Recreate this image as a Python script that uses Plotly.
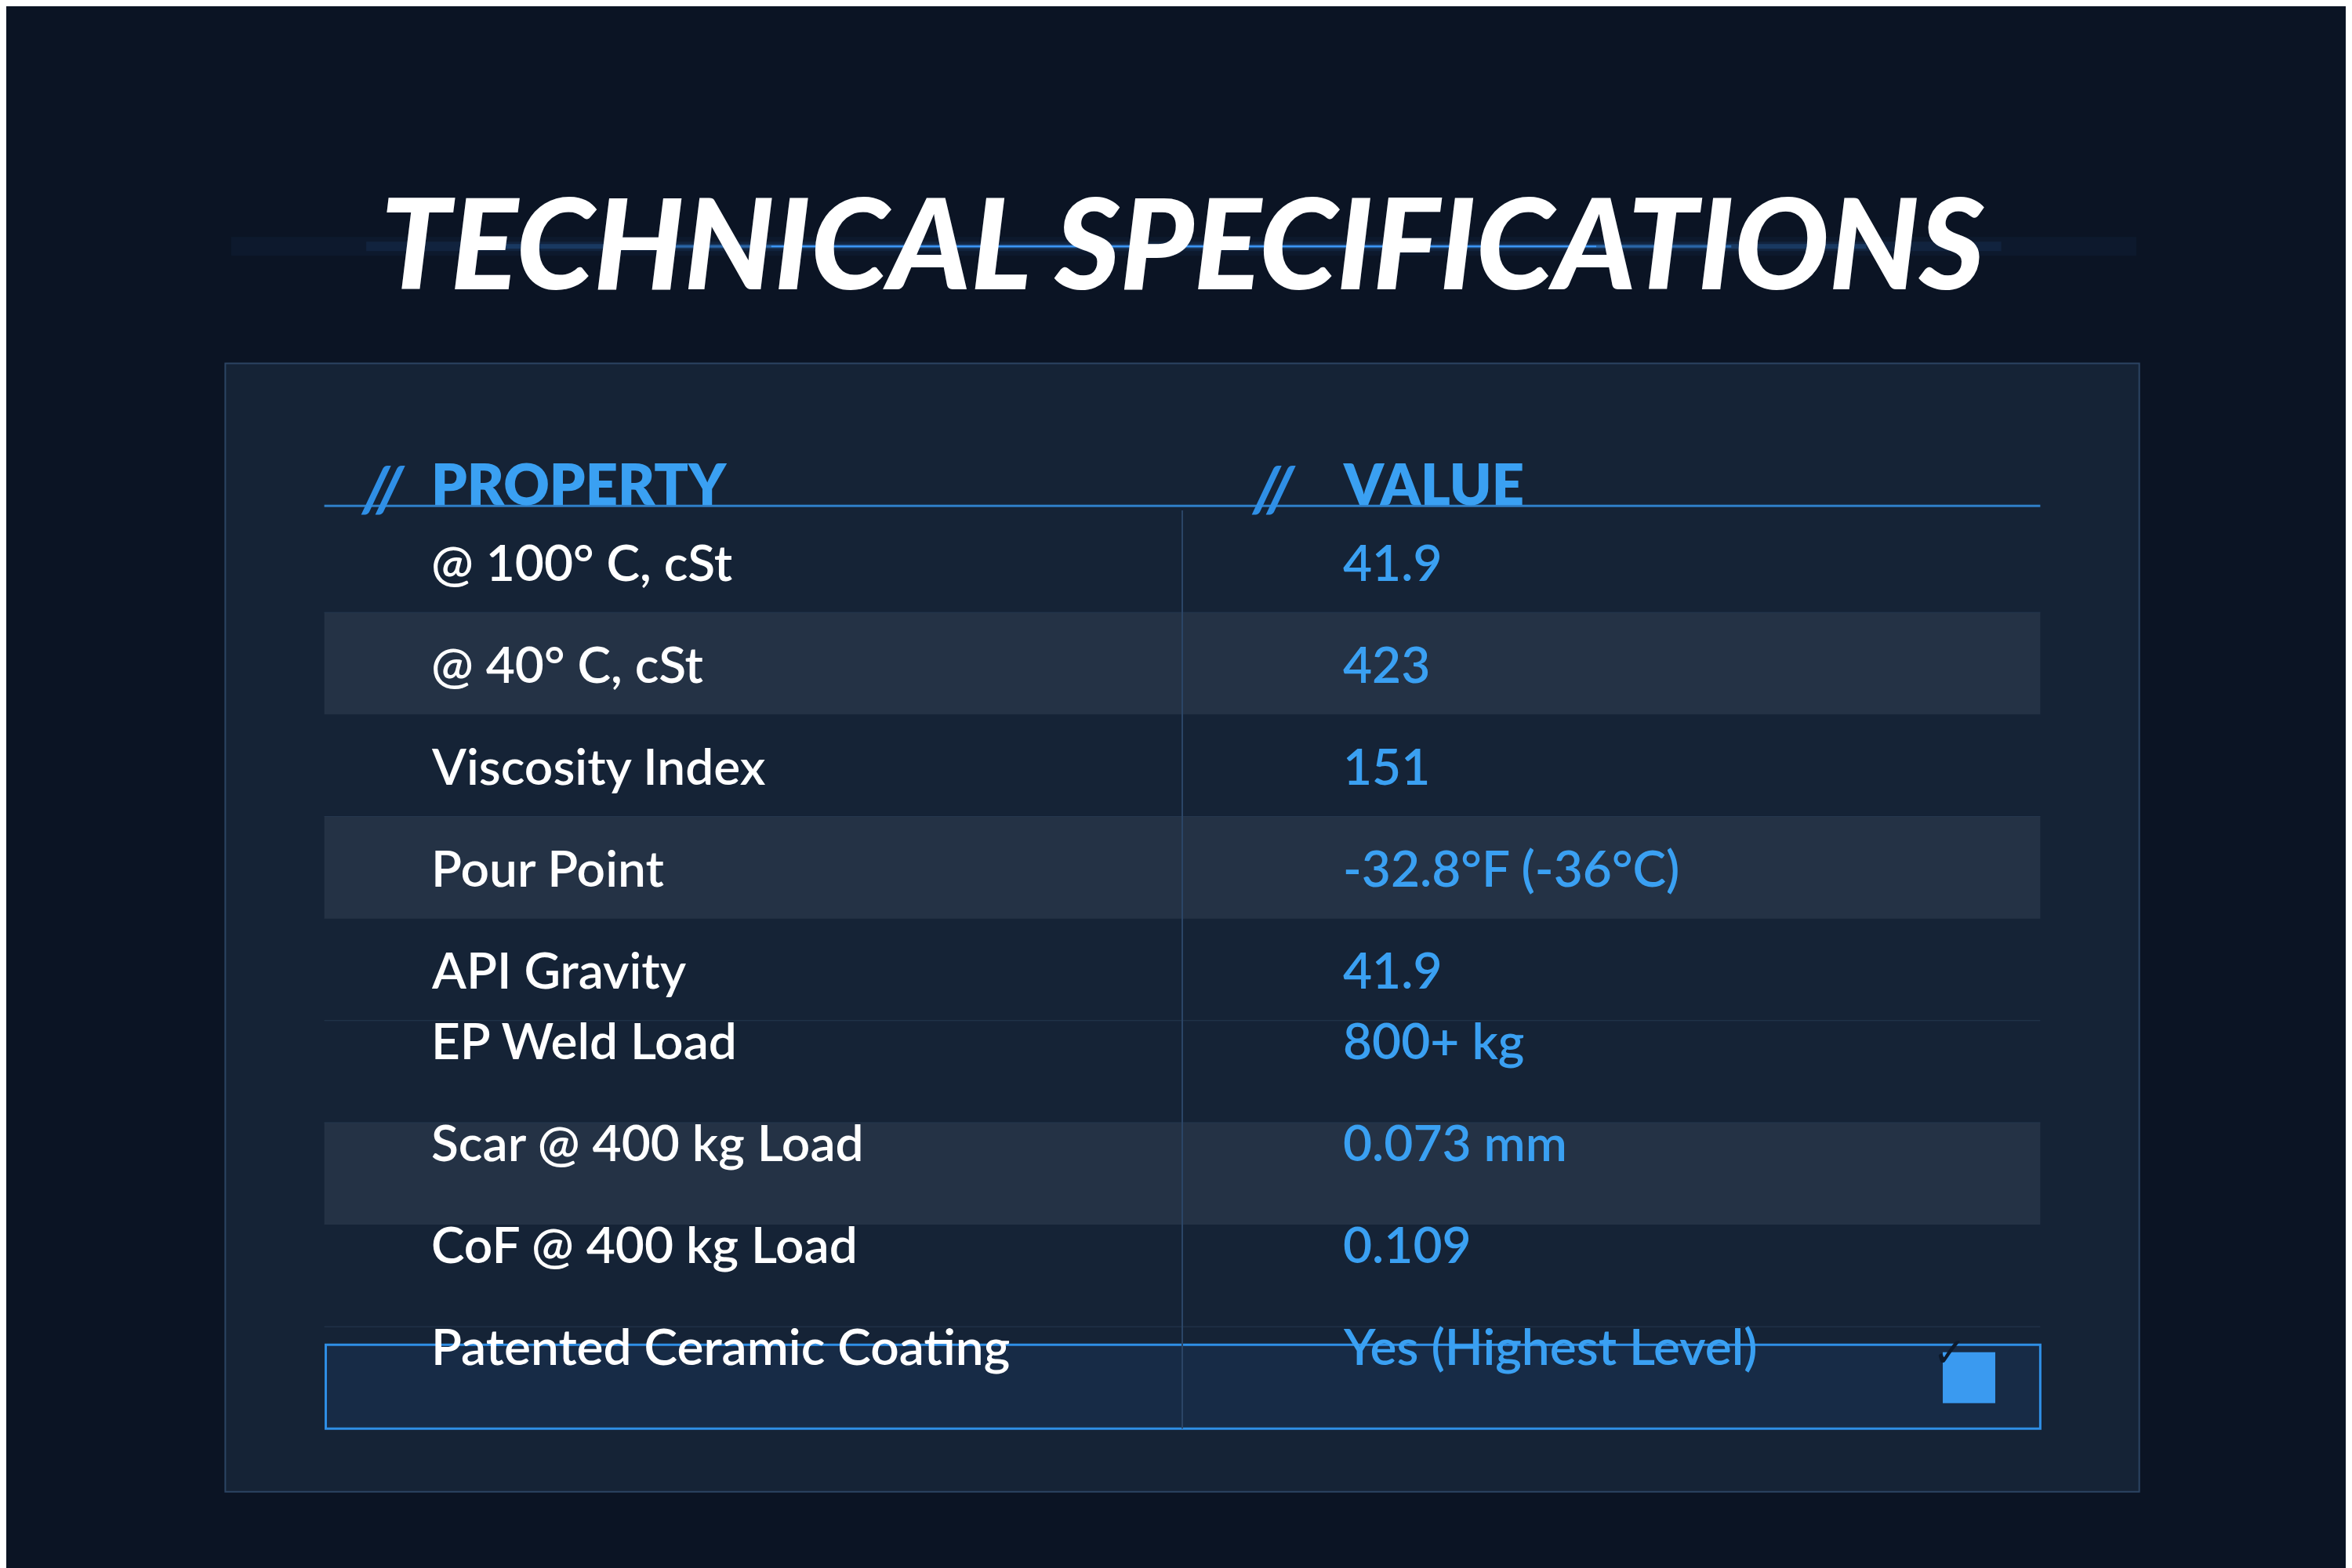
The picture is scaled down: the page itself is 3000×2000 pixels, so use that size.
import plotly.graph_objects as go

# tabla de especificaciones
propiedades = ["@ 100° C, cSt", "@ 40° C, cSt", "Viscosity Index", "Pour Point",
               "API Gravity", "EP Weld Load", "Scar @ 400 kg Load",
               "CoF @ 400 kg Load", "Patented Ceramic Coating"]
valores = ["41.9", "423", "151", "-32.8°F (-36°C)", "41.9", "800+ kg",
           "0.073 mm", "0.109", "Yes (Highest Level)"]
filas_sombreadas = [1, 3, 6]
encabezados = ["PROPERTY", "VALUE"]
titulo = "TECHNICAL SPECIFICATIONS"

W, H = 1568, 1045  # coordenadas de referencia


def px(x):
    return x / W


def py(y):
    return 1 - y / H


AZUL = "#3aa0f2"
FUENTE = "Lato"

fig = go.Figure()
shapes = []
ann = []

# glow del fondo
for i, (w, op) in enumerate([(24, 0.04), (12, 0.08), (6, 0.18), (3, 0.45), (2, 0.95)]):
    shapes.append(dict(type="line", xref="paper", yref="paper",
                       x0=px(150 + i * 90), x1=px(1420 - i * 90), y0=py(160), y1=py(160),
                       line=dict(color="#3f9dff", width=w), opacity=op, layer="below"))

# panel
shapes.append(dict(type="rect", xref="paper", yref="paper", x0=px(146), x1=px(1422),
                   y0=py(238), y1=py(990), fillcolor="rgba(24,38,58,0.85)",
                   line=dict(color="#2c4463", width=2), layer="below"))

# linea de encabezado
shapes.append(dict(type="line", xref="paper", yref="paper", x0=px(212), x1=px(1356),
                   y0=py(333), y1=py(333), line=dict(color="#2f7fc8", width=3)))

top, alto = 336, 68
for i, (p, v) in enumerate(zip(propiedades, valores)):
    y0, y1 = top + i * alto, top + (i + 1) * alto
    if i in filas_sombreadas:
        shapes.append(dict(type="rect", xref="paper", yref="paper", x0=px(212), x1=px(1356),
                           y0=py(y0), y1=py(y1), fillcolor="rgba(50,64,82,0.55)",
                           line=dict(width=0), layer="below"))
    elif i < len(propiedades) - 1:
        shapes.append(dict(type="line", xref="paper", yref="paper", x0=px(212), x1=px(1356),
                           y0=py(y1), y1=py(y1), line=dict(color="#26384f", width=1)))
    ym = py((y0 + y1) / 2)
    ann.append(dict(xref="paper", yref="paper", x=px(282), y=ym, text=p, showarrow=False,
                    xanchor="left",
                    font=dict(family=FUENTE, size=64, color="white", weight=600)))
    ann.append(dict(xref="paper", yref="paper", x=px(890), y=ym, text=v, showarrow=False,
                    xanchor="left",
                    font=dict(family=FUENTE, size=64, color=AZUL, weight=600)))

# ultima fila resaltada
y0, y1 = top + 8 * alto, top + 9 * alto
shapes.append(dict(type="rect", xref="paper", yref="paper", x0=px(213), x1=px(1356),
                   y0=py(y0 + 12), y1=py(y1), fillcolor="rgba(30,60,100,0.35)",
                   line=dict(color="#2f8fe6", width=3), layer="below"))
shapes.append(dict(type="rect", xref="paper", yref="paper", x0=px(1291), x1=px(1326),
                   y0=py(897), y1=py(931), fillcolor="#3a9af0", line=dict(width=0)))
ann.append(dict(xref="paper", yref="paper", x=px(1308), y=py(914), text="✓", showarrow=False,
                font=dict(family="DejaVu Sans", size=52, color="#0d1a2c", weight=700)))

# divisor de columnas
shapes.append(dict(type="line", xref="paper", yref="paper", x0=px(784), x1=px(784),
                   y0=py(336), y1=py(948), line=dict(color="#2b4566", width=2)))

# encabezados
for xs, xt, t in [(235, 282, encabezados[0]), (845, 890, encabezados[1])]:
    ann.append(dict(xref="paper", yref="paper", x=px(xs), y=py(294), text="<i>//</i>",
                    showarrow=False,
                    font=dict(family=FUENTE, size=80, color="#2f8fe6", weight=900)))
    ann.append(dict(xref="paper", yref="paper", x=px(xt), y=py(294), text=t, showarrow=False,
                    xanchor="left",
                    font=dict(family=FUENTE, size=72, color=AZUL, weight=800)))

# titulo
ann.append(dict(xref="paper", yref="paper", x=0.5, y=py(105), text="<i>" + titulo + "</i>",
                showarrow=False,
                font=dict(family=FUENTE, size=160, color="white", weight=900)))

fig.update_layout(width=3000, height=2000, margin=dict(l=0, r=0, t=0, b=0),
                  paper_bgcolor="#0b1424", plot_bgcolor="rgba(0,0,0,0)",
                  xaxis=dict(visible=False), yaxis=dict(visible=False),
                  shapes=shapes, annotations=ann, showlegend=False)
fig.write_html("out.html")
